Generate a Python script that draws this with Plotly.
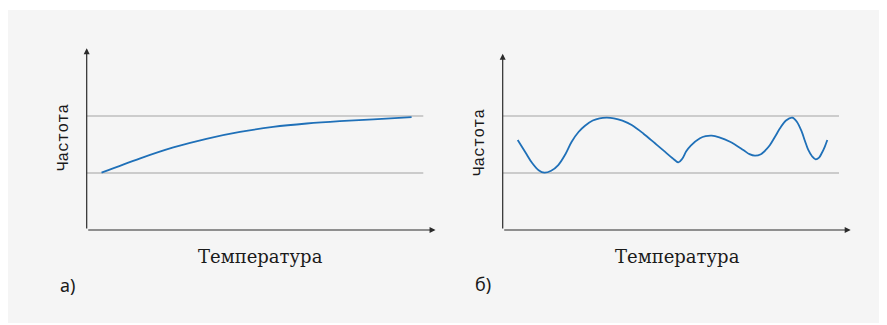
import plotly.graph_objects as go

W, H = 887, 325
OFF = 8  # page body margin

# ---- data ----
temp_a = [0.26, 0.94, 1.52, 2.10, 2.69, 3.27, 3.86, 4.44, 5.03, 5.70]
freq_a = [1.005, 1.257, 1.448, 1.60, 1.72, 1.808, 1.868, 1.91, 1.942, 1.98]

temp_b = [0.263, 0.40, 0.52, 0.63, 0.73,
          0.85, 0.975, 1.10, 1.21, 1.33, 1.444, 1.58, 1.70, 1.825,
          1.95, 2.10, 2.263, 2.47, 2.672, 2.85, 2.98, 3.081,
          3.15, 3.22, 3.30, 3.461, 3.56, 3.667,
          3.80, 3.988, 4.221, 4.33, 4.426,
          4.53, 4.62, 4.689, 4.78, 4.865, 4.97, 5.081,
          5.16, 5.246, 5.30, 5.361, 5.43, 5.491,
          5.55, 5.596, 5.65, 5.695]
freq_b = [1.579, 1.36, 1.17, 1.05, 1.005,
          1.04, 1.14, 1.33, 1.549, 1.72, 1.83, 1.92, 1.96, 1.97,
          1.96, 1.92, 1.842, 1.69, 1.521, 1.37, 1.26, 1.188,
          1.25, 1.38, 1.48, 1.609, 1.645, 1.654,
          1.625, 1.549, 1.404, 1.33, 1.304,
          1.33, 1.41, 1.491, 1.64, 1.784, 1.92, 1.97,
          1.90, 1.725, 1.57, 1.404, 1.29, 1.24,
          1.27, 1.346, 1.46, 1.579]

grid_levels = [1, 2]
x_label = "Температура"
y_label = "Частота"
panel_labels = ["а)", "б)"]


def px(x):
    return (x - OFF) / W


def py(y):
    return (H - (y - OFF)) / H


LINE_COLOR = "#1f70b8"
AXIS_COLOR = "#2b2b2b"

fig = go.Figure()
fig.add_trace(go.Scatter(x=temp_a, y=freq_a, mode="lines", xaxis="x", yaxis="y",
                         line=dict(color=LINE_COLOR, width=1.8, shape="spline", smoothing=1.0),
                         hoverinfo="skip", showlegend=False))
fig.add_trace(go.Scatter(x=temp_b, y=freq_b, mode="lines", xaxis="x2", yaxis="y2",
                         line=dict(color=LINE_COLOR, width=1.8, shape="spline", smoothing=1.0),
                         hoverinfo="skip", showlegend=False))

ax_common = dict(showgrid=False, zeroline=False, showticklabels=False, showline=False,
                 ticks="", fixedrange=True)
ydom = [py(230), py(230 - 3.2 * 57)]
fig.update_layout(
    width=W, height=H,
    margin=dict(l=0, r=0, t=0, b=0),
    paper_bgcolor="white", plot_bgcolor="rgba(0,0,0,0)",
    xaxis=dict(domain=[px(86.7), px(86.7 + 6.2 * 57)], range=[0, 6.2], **ax_common),
    yaxis=dict(domain=ydom, range=[0, 3.2], anchor="x", **ax_common),
    xaxis2=dict(domain=[px(502.7), px(502.7 + 6.2 * 57)], range=[0, 6.2], anchor="y2", **ax_common),
    yaxis2=dict(domain=ydom, range=[0, 3.2], anchor="x2", **ax_common),
)

shapes = [dict(type="rect", xref="paper", yref="paper", x0=px(8), x1=1.0, y0=py(323), y1=py(10),
               fillcolor="#f5f5f5", line=dict(width=0), layer="below")]
for xr, yr, xend in [("x", "y", 5.905), ("x2", "y2", 5.9)]:
    for lvl, col, wd in zip(grid_levels, ["#bdbdbd", "#a3a3a3"], [1.5, 1.2]):
        shapes.append(dict(type="line", xref=xr, yref=yr, x0=0, x1=xend, y0=lvl, y1=lvl,
                           line=dict(color=col, width=wd), layer="below"))
fig.update_layout(shapes=shapes)

anns = []
for xr, yr, xtop, ytop in [("x", "y", 6.12, 3.19), ("x2", "y2", 6.105, 3.09)]:
    anns.append(dict(xref=xr, yref=yr, axref=xr, ayref=yr, x=xtop, y=0, ax=0, ay=0, text="",
                     showarrow=True, arrowhead=2, arrowsize=1, arrowwidth=1.2, arrowcolor=AXIS_COLOR))
    anns.append(dict(xref=xr, yref=yr, axref=xr, ayref=yr, x=0, y=ytop, ax=0, ay=0, text="",
                     showarrow=True, arrowhead=2, arrowsize=1, arrowwidth=1.2, arrowcolor=AXIS_COLOR))

serif = dict(family="DejaVu Serif", size=18, color="#1a1a1a")
mono = dict(family="Liberation Mono", size=16, color="#1a1a1a")
sans = dict(family="Noto Sans", size=18, color="#1a1a1a")

for cx, cy in [(260, 256), (677, 256)]:
    anns.append(dict(xref="paper", yref="paper", x=px(cx), y=py(cy), text=x_label, showarrow=False,
                     xanchor="center", yanchor="middle", font=serif))
for cx, cy in [(64, 137), (480, 142)]:
    anns.append(dict(xref="paper", yref="paper", x=px(cx), y=py(cy), text=y_label, showarrow=False,
                     xanchor="center", yanchor="middle", textangle=-90, font=mono))
for (cx, cy), lab in zip([(67, 285), (483, 284)], panel_labels):
    anns.append(dict(xref="paper", yref="paper", x=px(cx), y=py(cy), text=lab, showarrow=False,
                     xanchor="center", yanchor="middle", font=sans))
fig.update_layout(annotations=anns)

fig.write_html("out.html")
